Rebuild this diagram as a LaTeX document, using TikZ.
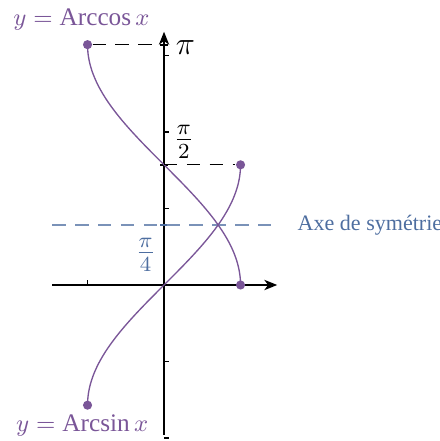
\documentclass[tikz,border=0pt]{standalone}
\usepackage{fontspec}
\setmainfont{Liberation Serif}
\usetikzlibrary{arrows,arrows.meta,positioning,calc}
\definecolor{curvepurple}{RGB}{122,86,152}
\definecolor{symblue}{RGB}{78,110,160}

\begin{document}
\begin{tikzpicture}[
    axis/.style={-{Stealth[length=4.8pt, width=3.8pt, inset=1.4pt]}, line width=0.7pt},
    curve/.style={curvepurple, line width=0.5pt},
    dot/.style={circle, fill=curvepurple, inner sep=0pt, minimum size=3.4pt},
    guide/.style={dash pattern=on 5pt off 3.5pt, line width=0.5pt},
    symaxis/.style={symblue!75, dash pattern=on 5pt off 3.5pt, line width=0.5pt},
    ticks/.style={line width=0.4pt},
    value/.style={font=\fontsize{11.5}{13}\selectfont},
    curvelabel/.style={text=curvepurple, font=\fontsize{9.4}{11}\selectfont}
]
\useasboundingbox (-2.144,-2.039) rectangle (3.595,3.725);

% Axes
\coordinate (xmin) at (-1.46,0);
\coordinate (xmax) at (1.48,0);
\coordinate (ymin) at (0,-1.96);
\coordinate (ymax) at (0,3.31);
\draw[axis] (xmin) -- (xmax);
\draw[axis] (ymin) -- (ymax);

% Integer ticks
\foreach \y in {-2,-1,1,2,3}
    \draw[ticks] (0,\y) -- ++(0.07,0);
\draw[ticks] (-1,0) -- ++(0,0.07);

% Special values on the y axis
\coordinate (ypi) at (0,{pi});
\coordinate (yhalf) at (0,{pi/2});
\coordinate (yquart) at (0,{pi/4});
\draw[line width=0.8pt] ($(ypi)+(-0.05,0)$) -- ($(ypi)+(0.05,0)$);
\draw[line width=0.8pt] ($(yhalf)+(-0.05,0)$) -- ($(yhalf)+(0.05,0)$);
\draw[line width=0.8pt, symblue] ($(yquart)+(-0.05,0)$) -- ($(yquart)+(0.05,0)$);

% Axe de symetrie
\coordinate (sl) at (-1.46,{pi/4});
\coordinate (sr) at (1.48,{pi/4});
\draw[symaxis] (sl) -- (sr);
\node[right=0.26cm of sr, text=symblue, inner sep=0pt, font=\fontsize{8.2}{10}\selectfont] (symlabel) {Axe de symétrie};

% Curves
\draw[curve] plot[domain=0:pi, samples=80, variable=\t] ({cos(\t r)},{\t});
\draw[curve] plot[domain=-pi/2:pi/2, samples=80, variable=\t] ({sin(\t r)},{\t});

% End points
\node[dot] (acstart) at (-1,{pi}) {};
\node[dot] (acend) at (1,0) {};
\node[dot] (asstart) at (-1,{-pi/2}) {};
\node[dot] (asend) at (1,{pi/2}) {};

\draw[guide] (acstart) -- (ypi);
\draw[guide] (yhalf) -- (asend);

% Labels
\node[value] (lpi) at (0.28,3.11) {$\pi$};
\node[value] (lhalf) at (0.26,1.87) {$\frac{\pi}{2}$};
\node[value, text=symblue] (lquart) at (-0.24,0.39) {$\frac{\pi}{4}$};
\node[curvelabel] (arccos) at (-1.08,3.47) {$y = \textrm{Arccos}\,x$};
\node[curvelabel] (arcsin) at (-1.07,-1.84) {$y = \textrm{Arcsin}\,x$};

\end{tikzpicture}
\end{document}
